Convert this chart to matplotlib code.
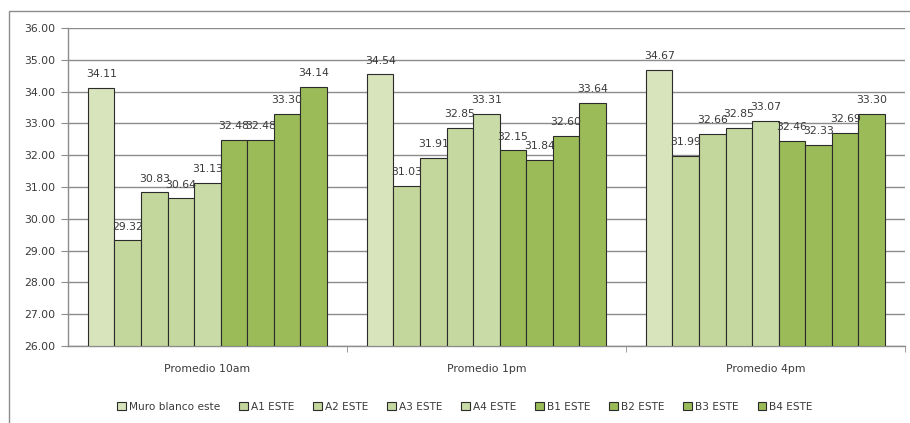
import numpy as np
import matplotlib
matplotlib.use('Agg')
import matplotlib.pyplot as plt
from matplotlib.patches import Rectangle

groups = ['Promedio 10am', 'Promedio 1pm', 'Promedio 4pm']
series = ['Muro blanco este', 'A1 ESTE', 'A2 ESTE', 'A3 ESTE', 'A4 ESTE',
          'B1 ESTE', 'B2 ESTE', 'B3 ESTE', 'B4 ESTE']
values = [
    [34.11, 34.54, 34.67],   # Muro blanco este
    [29.32, 31.03, 31.99],   # A1
    [30.83, 31.91, 32.66],   # A2
    [30.64, 32.85, 32.85],   # A3
    [31.13, 33.31, 33.07],   # A4
    [32.48, 32.15, 32.46],   # B1
    [32.48, 31.84, 32.33],   # B2
    [33.30, 32.60, 32.69],   # B3
    [34.14, 33.64, 33.30],   # B4
]
colors = ['#d8e4bc', '#c3d69b', '#c3d69b', '#c5d8a0', '#c9dba7',
          '#9bbb59', '#9bbb59', '#9bbb59', '#9bbb59']

TXT = '#3a3a3a'
GRID = '#8c8c8c'
plt.rcParams.update({'font.family': 'DejaVu Sans'})

fig = plt.figure(figsize=(9.1, 4.23), dpi=100)
ax = fig.add_axes([68/910, 1 - 346/423, (905 - 68)/910, (346 - 28)/423])

n = len(series)
w = 1 / (n + 1.5)
x = np.arange(len(groups))
for i, (name, vals, c) in enumerate(zip(series, values, colors)):
    pos = x - 0.5 + 0.75 * w + (i + 0.5) * w
    ax.bar(pos, np.array(vals) - 26, bottom=26, width=w, color=c,
           edgecolor='#2b2b2b', linewidth=0.8, label=name, zorder=3)
    for p, v in zip(pos, vals):
        ax.annotate(f'{v:.2f}', (p, v), xytext=(0, 10), textcoords='offset points',
                    ha='center', va='center', fontsize=7.8, color=TXT, zorder=4)

ax.set_ylim(26, 36)
ax.set_xlim(-0.5, 2.5)
ax.set_yticks(np.arange(26, 36.01, 1))
ax.set_yticklabels([f'{t:.2f}' for t in np.arange(26, 36.01, 1)])
ax.yaxis.grid(True, color=GRID, linewidth=1, zorder=0)
ax.set_axisbelow(True)

ax.set_xticks(x)
ax.set_xticklabels(groups)
ax.tick_params(axis='x', length=0, pad=13, labelsize=7.8, labelcolor=TXT)
ax.set_xticks([0.5, 1.5, 2.5], minor=True)
ax.tick_params(axis='x', which='minor', length=4, color=GRID, direction='out')
ax.tick_params(axis='y', length=5, color=GRID, labelsize=7.8, labelcolor=TXT, pad=4)

for s in ['top', 'right']:
    ax.spines[s].set_visible(False)
for s in ['left', 'bottom']:
    ax.spines[s].set_color(GRID)
    ax.spines[s].set_linewidth(1)

fig.legend(loc='center', bbox_to_anchor=(465/910, 1 - 407/423), ncol=n,
           frameon=False, fontsize=7.6, handlelength=0.8, handleheight=0.8,
           handletextpad=0.3, columnspacing=1.8, labelcolor=TXT)

fig.patches.append(Rectangle((9/910, -0.05), 1.0, 1.05 - 11/423,
                             transform=fig.transFigure, fill=False,
                             edgecolor='#8c8c8c', linewidth=1))

plt.savefig('out.png', dpi=100)
